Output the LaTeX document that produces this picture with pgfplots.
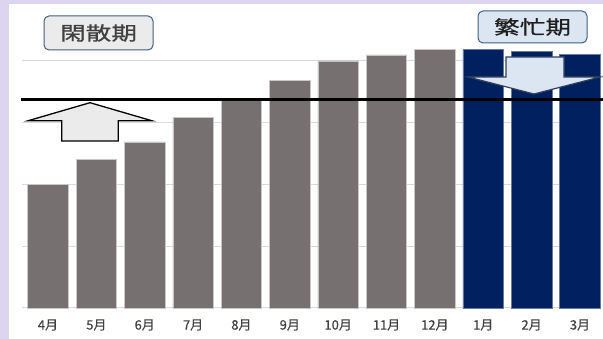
\documentclass[border=0pt]{standalone}
\usepackage{pgfplots}
\pgfplotsset{compat=1.18}
\usepackage{fontspec}
\newfontfamily\cjk{Noto Sans CJK JP}
\newfontfamily\cjkt{Noto Sans CJK JP}[FakeBold=0.4]
\definecolor{lav}{RGB}{221,212,240}
\definecolor{bargray}{RGB}{118,113,112}
\definecolor{navy}{RGB}{0,32,96}
\definecolor{gridc}{RGB}{217,217,217}
\definecolor{boxedge}{RGB}{65,95,130}
\definecolor{arredge}{RGB}{45,65,90}
\definecolor{lgray}{RGB}{235,235,235}
\definecolor{lblue}{RGB}{220,230,242}
\definecolor{txt}{RGB}{64,64,64}
\begin{document}
\begin{tikzpicture}[x=1pt,y=1pt]
\useasboundingbox (0,0) rectangle (603,339);
\fill[lav] (0,0) rectangle (603,339);
\fill[white] (9,0) rectangle (603,335);
\begin{axis}[
  at={(22pt,31pt)}, anchor=south west,
  scale only axis, width=579pt, height=271.7pt,
  xmin=-0.5376, xmax=11.435, ymin=0, ymax=4.4,
  axis line style={draw=none},
  tick style={draw=none},
  major tick length=0pt,
  ytick={0,1,2,3,4}, yticklabels={},
  ymajorgrids, grid style={gridc, line width=1pt},
  xtick={0,1,2,3,4,5,6,7,8,9,10,11},
  xticklabels={4月,5月,6月,7月,8月,9月,10月,11月,12月,1月,2月,3月},
  xticklabel style={font=\cjkt\fontsize{13}{14}\selectfont, text=txt, anchor=center, yshift=-17pt},
  clip=false,
]
\addplot[ybar, bar width=40.5pt, bar shift=0pt, fill=bargray, draw=black!22, line width=0.6pt]
  coordinates {(0,2.00) (1,2.40) (2,2.69) (3,3.09) (4,3.37) (5,3.69) (6,4.00) (7,4.10) (8,4.19)};
\addplot[ybar, bar width=40.5pt, bar shift=0pt, fill=navy, draw=navy!60!white, line width=0.6pt]
  coordinates {(9,4.19) (10,4.15) (11,4.11)};
\end{axis}
% up arrow (閑散期)
\draw[black, line width=1.3pt, fill=lgray, line join=miter]
  (61.7,198) -- (61.7,218.3) -- (28.3,218.3) -- (90,236.3) -- (151.7,218.3) -- (118.3,218.3) -- (118.3,198) -- cycle;
% down arrow (繁忙期)
\draw[arredge, line width=1.2pt, fill=lblue, line join=miter]
  (506,282) -- (564,282) -- (564,262) -- (600,262) -- (534,245) -- (468,262) -- (506,262) -- cycle;
% labels
\node[draw=boxedge, line width=1pt, fill=lgray, rounded corners=5pt, minimum width=109pt, minimum height=34pt, inner sep=0pt]
  at (98.5,306) {\scalebox{1.35}[1]{\cjkt\fontsize{19}{20}\selectfont\color{txt}閑散期}};
\node[draw=boxedge, line width=1pt, fill=lblue, rounded corners=5pt, minimum width=109pt, minimum height=32pt, inner sep=0pt]
  at (532.5,312) {\scalebox{1.35}[1]{\cjkt\fontsize{19}{20}\selectfont\color{black!88}繁忙期}};
% reference line
\draw[black, line width=3.5pt] (20.5,239.5) -- (603,239.5);
\end{tikzpicture}
\end{document}
